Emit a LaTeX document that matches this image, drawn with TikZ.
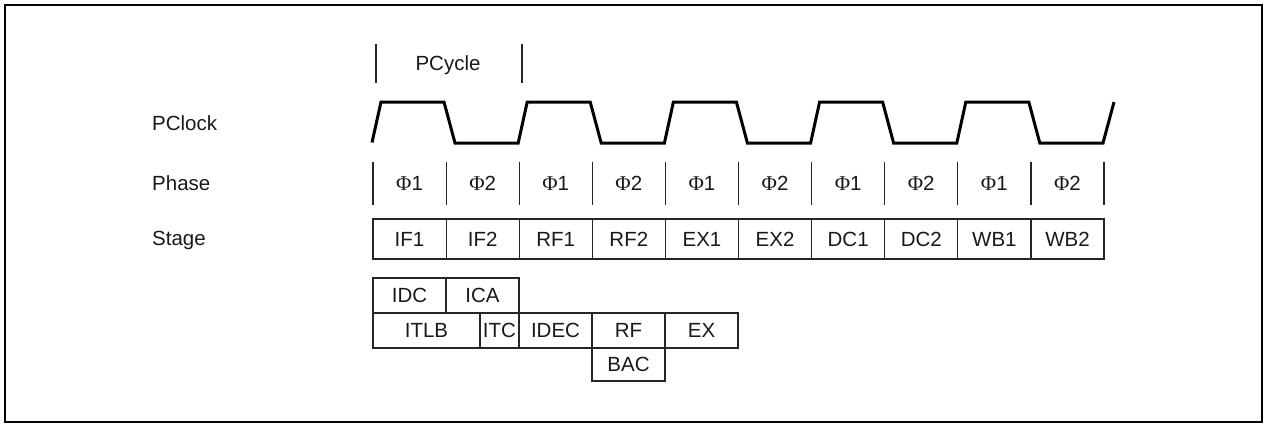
\documentclass[tikz,border=0pt]{standalone}
\usepackage{fontspec}
\setmainfont{Liberation Sans}
\newfontfamily\phifont{Liberation Serif}
\newcommand{\Ph}[1]{{\phifont\fontsize{21}{24}\selectfont Φ}#1}
\begin{document}
\begin{tikzpicture}[x=1pt,y=-1pt,
  every node/.style={font=\fontsize{20.5}{24}\selectfont, inner sep=0pt, text=black!90},
  thinline/.style={line width=1.2pt, draw=black!85},
  cellbox/.style={draw=black!85, line width=1.2pt, minimum width=73.1pt, minimum height=40pt},
  lowbox/.style={draw=black!85, line width=1.2pt, minimum height=35pt},
  clockline/.style={line width=3pt, line join=miter},
  rowlabel/.style={anchor=base west}]
\useasboundingbox (0,0) rectangle (1265,424);
\draw[line width=2pt] (5,5) rectangle (1262,422);

% row labels
\node[rowlabel] (lclock) at (152,130.5) {PClock};
\node[rowlabel] (lphase) at (152,190.5) {Phase};
\node[rowlabel] (lstage) at (152,245.5) {Stage};

% PCycle
\draw[thinline] (376,44) -- (376,83);
\draw[thinline] (522,44) -- (522,83);
\node[anchor=base] (pcycle) at (448,70.5) {PCycle};

% clock
\draw[clockline] (372,142.5)
  foreach \k in {0,...,4} {
    -- ({373+146.2*\k+8},102) -- ({373+146.2*\k+71},102)
    -- ({373+146.2*\k+82},143) -- ({373+146.2*(\k+1)-1},143)
  } -- (1114,102);

% phase dividers and labels
\foreach \i in {0,...,10}
  \draw[thinline] ({373+73.1*\i},162) -- ({373+73.1*\i},205);
\foreach \i/\n in {0/1,1/2,2/1,3/2,4/1,5/2,6/1,7/2,8/1,9/2}
  \node (p\i) at ({409.55+73.1*\i},183.5) {\Ph{\n}};

% stage boxes
\foreach \t [count=\i from 0] in {IF1,IF2,RF1,RF2,EX1,EX2,DC1,DC2,WB1,WB2}
  \node[cellbox] (s\i) at ({409.55+73.1*\i},239) {\t};

% lower boxes
\node[lowbox, minimum width=73pt] (idc) at (409.5,295.5) {IDC};
\node[lowbox, minimum width=73pt] (ica) at (482.5,295.5) {ICA};
\node[lowbox, minimum width=107pt] (itlb) at (426.5,330.5) {ITLB};
\node[lowbox, minimum width=39pt] (itc) at (499.5,330.5) {ITC};
\node[lowbox, minimum width=73pt] (idec) at (555.5,330.5) {IDEC};
\node[lowbox, minimum width=73pt] (rf) at (628.5,330.5) {RF};
\node[lowbox, minimum width=73pt] (ex) at (701.5,330.5) {EX};
\node[lowbox, minimum width=73pt, minimum height=33pt] (bac) at (628.5,364.5) {BAC};
\end{tikzpicture}
\end{document}
